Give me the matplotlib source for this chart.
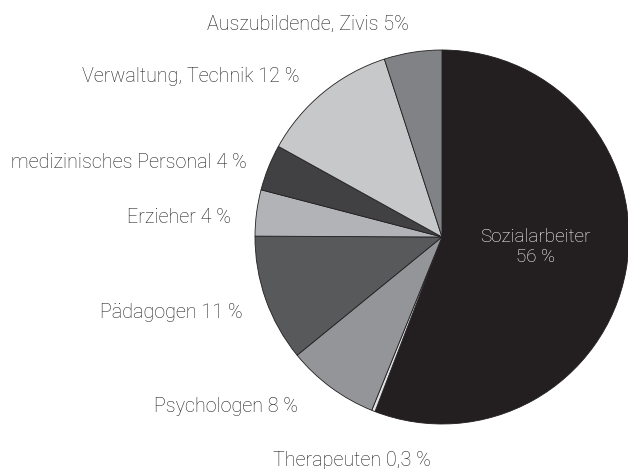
import matplotlib
matplotlib.use("Agg")
import matplotlib.pyplot as plt

categories = ["Sozialarbeiter", "Therapeuten", "Psychologen", "Pädagogen",
              "Erzieher", "medizinisches Personal", "Verwaltung, Technik", "Auszubildende, Zivis"]
values = [56, 0.3, 8, 11, 4, 4, 12, 5]
labels = ["Sozialarbeiter\n56 %", "Therapeuten 0,3 %", "Psychologen 8 %", "Pädagogen 11 %",
          "Erzieher 4 %", "medizinisches Personal 4 %", "Verwaltung, Technik 12 %",
          "Auszubildende, Zivis 5%"]
colors = ["#231f20", "#e0e1e2", "#939598", "#58595b", "#b1b3b6", "#414042", "#c7c8ca", "#808285"]

W, H = 628, 469
fig = plt.figure(figsize=(W / 100, H / 100), dpi=100)
ax = fig.add_axes([0, 0, 1, 1])

cx, cy, r = 442, H - 237, 187
ax.pie(values, colors=colors, startangle=90, counterclock=False,
       center=(cx, cy), radius=r, frame=True,
       wedgeprops=dict(edgecolor="#231f20", linewidth=0.6))
ax.set_xlim(0, W)
ax.set_ylim(0, H)
ax.set_aspect("equal")
ax.axis("off")

font = dict(family="Roboto", fontweight="light", fontsize=14.2, color="#1e1e1e")
# label positions (pixel coords, y from top)
pos = {
    0: (535, 247, "center"),
    1: (352, 460, "center"),
    2: (298, 407, "right"),
    3: (243, 313, "right"),
    4: (231, 217, "right"),
    5: (247, 162, "right"),
    6: (300, 76, "right"),
    7: (308, 24, "center"),
}
for i, lab in enumerate(labels):
    x, y, ha = pos[i]
    kw = dict(font)
    if i == 0:
        kw["color"] = "white"
        kw["linespacing"] = 1.2
        kw["fontsize"] = 13.6
    ax.text(x, H - y, lab, ha=ha, va="center", **kw)

fig.savefig("out.png", dpi=100, facecolor="white")
